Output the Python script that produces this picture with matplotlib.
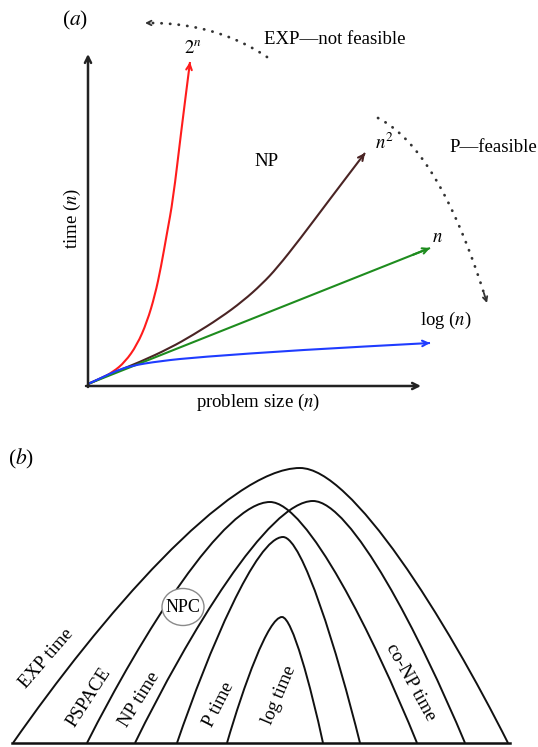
import matplotlib.pyplot as plt
import numpy as np
from matplotlib.path import Path
from matplotlib.patches import PathPatch, Ellipse

plt.rcParams['font.family'] = ['Liberation Serif', 'DejaVu Serif']
plt.rcParams['mathtext.fontset'] = 'stix'

# ---- panel (a): growth curves (pixel coords) ----
red_x = [88, 100, 113, 125, 137, 147, 155, 161, 167, 173, 181, 190]
red_y = [384, 379, 372, 362, 345, 322, 295, 267, 233, 200, 133, 62]
brown_x = [88, 110, 140, 170, 193, 220, 243, 262, 277, 300, 330, 365]
brown_y = [384, 374, 362, 348, 335, 318, 301, 284, 268, 239, 199, 153]
green_x = [88, 430]
green_y = [384, 248]
blue_x = [88, 103, 116, 130, 160, 200, 300, 430]
blue_y = [384, 377, 371, 366, 361, 357, 350, 343]
curve_colors = ['#ff1c1c', '#4a2424', '#1e8c1e', '#1f3cff']

# dotted "feasibility" arrows (quadratic control points)
exp_ctrl = [(267, 57), (215, 22), (145, 23)]
p_ctrl = [(378, 118), (440, 150), (487, 303)]

# ---- panel (b): nested complexity arches ----
base_y = 743
arch_left = [13, 87, 135, 177, 227]
arch_right = [508, 417, 465, 360, 323]
arch_peak_x = [300, 270, 313, 283, 282]
arch_peak_y = [468, 502, 501, 537, 617]

b_labels = ['EXP time', 'PSPACE', 'NP time', 'P time', 'log time', 'co-NP time']
b_label_x = [47, 89, 139, 219, 279, 411]
b_label_y = [659, 697, 700, 705, 695, 682]
b_label_rot = [49, 57, 58, 63, 67, -61]

fig = plt.figure(figsize=(5.38, 7.47), dpi=100)
ax = fig.add_axes([0, 0, 1, 1])
ax.set_xlim(0, 538)
ax.set_ylim(747, 0)
ax.axis('off')

fs = 13.5


def smooth(xs, ys):
    # quadratic spline through the picture points (midpoint rule)
    pts = list(zip(xs, ys))
    verts = [pts[0]]
    codes = [Path.MOVETO]
    for i in range(1, len(pts) - 1):
        mid = ((pts[i][0] + pts[i + 1][0]) / 2, (pts[i][1] + pts[i + 1][1]) / 2)
        verts += [pts[i], mid]
        codes += [Path.CURVE3, Path.CURVE3]
    verts.append(pts[-1])
    codes.append(Path.LINETO)
    return Path(verts, codes)


# axes of panel (a)
ax.annotate('', xy=(88, 54), xytext=(88, 387),
            arrowprops=dict(arrowstyle='->', lw=1.8, color='#222222',
                            shrinkA=0, shrinkB=0, mutation_scale=11))
ax.annotate('', xy=(421, 386), xytext=(86, 386),
            arrowprops=dict(arrowstyle='->', lw=1.8, color='#222222',
                            shrinkA=0, shrinkB=0, mutation_scale=11))

for xs, ys, c in zip([red_x, brown_x, green_x, blue_x],
                     [red_y, brown_y, green_y, blue_y], curve_colors):
    ax.add_patch(PathPatch(smooth(xs, ys), fill=False, edgecolor=c, lw=1.5))
    ax.annotate('', xy=(xs[-1], ys[-1]),
                xytext=(xs[-1] - (xs[-1] - xs[-2]) * 0.05, ys[-1] - (ys[-1] - ys[-2]) * 0.05),
                arrowprops=dict(arrowstyle='->', lw=1.5, color=c,
                                shrinkA=0, shrinkB=0, mutation_scale=10))


def quad(ctrl, n=60):
    t = np.linspace(0, 1, n)[:, None]
    p = np.array(ctrl, dtype=float)
    return (1 - t) ** 2 * p[0] + 2 * t * (1 - t) * p[1] + t ** 2 * p[2]


for ctrl in [exp_ctrl, p_ctrl]:
    pts = quad(ctrl)
    ax.plot(pts[:-2, 0], pts[:-2, 1], color='#333333', lw=2.0,
            linestyle=(0, (0.1, 3.0)), dash_capstyle='round')
    ax.annotate('', xy=pts[-1], xytext=pts[-3],
                arrowprops=dict(arrowstyle='->', lw=1.3, color='#333333',
                                shrinkA=0, shrinkB=0, mutation_scale=8))

ax.text(75, 20, r'($a$)', fontsize=15.5, ha='center', va='center')
ax.text(193, 49, r'$2^{n}$', fontsize=fs, ha='center', va='center')
ax.text(264, 39, 'EXP\u2014not feasible', fontsize=fs, ha='left', va='center')
ax.text(267, 162, 'NP', fontsize=fs, ha='center', va='center')
ax.text(384, 143, r'$n^{2}$', fontsize=fs, ha='center', va='center')
ax.text(493, 147, 'P\u2014feasible', fontsize=fs, ha='center', va='center')
ax.text(437, 237, r'$n$', fontsize=fs, ha='center', va='center')
ax.text(446, 320, r'log ($n$)', fontsize=fs, ha='center', va='center')
ax.text(72, 218, r'time ($n$)', fontsize=fs, ha='center', va='center', rotation=90)
ax.text(258, 402, r'problem size ($n$)', fontsize=fs, ha='center', va='center')

# panel (b)
ax.text(21, 459, r'($b$)', fontsize=15.5, ha='center', va='center')
ax.plot([12, 510], [base_y, base_y], color='#111111', lw=1.8)

for xl, xr, px, py in zip(arch_left, arch_right, arch_peak_x, arch_peak_y):
    dy = base_y - py
    dl = px - xl
    dr = xr - px
    verts = [(xl, base_y),
             (xl + 0.3 * dl, base_y - 0.45 * dy), (px - 0.25 * dl, py), (px, py),
             (px + 0.25 * dr, py), (xr - 0.3 * dr, base_y - 0.45 * dy), (xr, base_y)]
    codes = [Path.MOVETO] + [Path.CURVE4] * 6
    ax.add_patch(PathPatch(Path(verts, codes), fill=False, lw=1.4, edgecolor='#111111'))

ax.add_patch(Ellipse((183, 607), 42, 37, fill=True, facecolor='white',
                     edgecolor='#8a8a8a', lw=1.0, zorder=3))
ax.text(183, 607, 'NPC', fontsize=13, ha='center', va='center', zorder=4)

for lab, x, y, r in zip(b_labels, b_label_x, b_label_y, b_label_rot):
    ax.text(x, y, lab, fontsize=fs, ha='center', va='center', rotation=r,
            rotation_mode='anchor')

fig.savefig('out.png', dpi=100)
